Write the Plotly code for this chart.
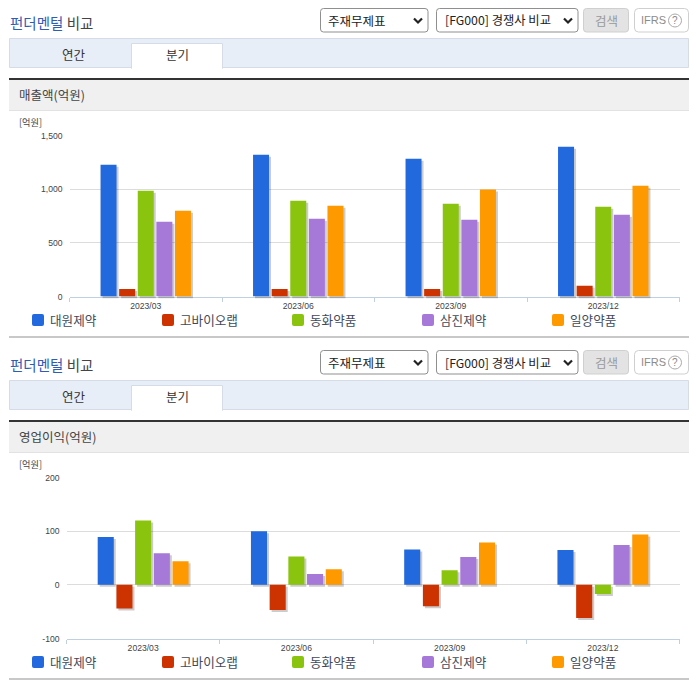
import plotly.graph_objects as go

W, H = 696, 684
periods = ["2023/03", "2023/06", "2023/09", "2023/12"]
companies = ["대원제약", "고바이오랩", "동화약품", "삼진제약", "일양약품"]
colors = ["#2369de", "#cc3300", "#8bc40e", "#a678d8", "#ff9900"]

revenue_daewon = [1228, 1321, 1284, 1396]
revenue_kobio = [71, 71, 71, 99]
revenue_donghwa = [985, 892, 864, 836]
revenue_samjin = [696, 724, 715, 761]
revenue_ilyang = [798, 845, 998, 1032]

profit_daewon = [89, 100, 66, 65]
profit_kobio = [-44, -47, -40, -62]
profit_donghwa = [120, 53, 27, -17]
profit_samjin = [59, 20, 52, 74]
profit_ilyang = [44, 29, 79, 94]

revenue = [revenue_daewon, revenue_kobio, revenue_donghwa, revenue_samjin, revenue_ilyang]
profit = [profit_daewon, profit_kobio, profit_donghwa, profit_samjin, profit_ilyang]

revenue_ticks = [0, 500, 1000, 1500]
revenue_ticktext = ["0", "500", "1,000", "1,500"]
profit_ticks = [-100, 0, 100, 200]
profit_ticktext = ["-100", "0", "100", "200"]

KR = "Noto Sans CJK KR"
LAT = "Liberation Sans"


def px(x):
    return x / W


def py(y):
    return 1 - y / H


fig = go.Figure()
layout = {}
shapes = []
annots = []


def rrect(x0, y0, x1, y1, r=0, fill="rgba(0,0,0,0)", line="rgba(0,0,0,0)", lw=1):
    if r:
        d = (f"M{px(x0+r)},{py(y0)} L{px(x1-r)},{py(y0)} Q{px(x1)},{py(y0)} {px(x1)},{py(y0+r)} "
             f"L{px(x1)},{py(y1-r)} Q{px(x1)},{py(y1)} {px(x1-r)},{py(y1)} L{px(x0+r)},{py(y1)} "
             f"Q{px(x0)},{py(y1)} {px(x0)},{py(y1-r)} L{px(x0)},{py(y0+r)} Q{px(x0)},{py(y0)} {px(x0+r)},{py(y0)} Z")
        shapes.append(dict(type="path", xref="paper", yref="paper", path=d, fillcolor=fill,
                           line=dict(color=line, width=lw)))
    else:
        shapes.append(dict(type="rect", xref="paper", yref="paper", x0=px(x0), x1=px(x1), y0=py(y0), y1=py(y1),
                           fillcolor=fill, line=dict(color=line, width=lw)))


def label(x, y, text, size=12, color="#333", anchor="left", family=KR):
    annots.append(dict(xref="paper", yref="paper", x=px(x), y=py(y), text=text, showarrow=False,
                       xanchor=anchor, yanchor="middle", borderpad=0, borderwidth=0,
                       font=dict(family=family, size=size, color=color)))


def chevron(x, y):
    d = f"M{px(x-4)},{py(y-2)} L{px(x)},{py(y+2)} L{px(x+4)},{py(y-2)}"
    shapes.append(dict(type="path", xref="paper", yref="paper", path=d,
                       line=dict(color="#222", width=2.2)))


def chrome(o, title):
    """Page furniture of one panel; o is the vertical offset in pixels."""
    label(9.5, 23 + o, '<span style="color:#2f5cb5">펀더멘털</span> <span style="color:#444">비교</span>', 14.5)
    rrect(320.5, 8.5 + o, 428, 32 + o, 3, "#fff", "#8f8f8f")
    label(327.5, 20.5 + o, "주재무제표", 12.5, "#222")
    chevron(418, 20.5 + o)
    rrect(436.5, 8.5 + o, 578, 32 + o, 3, "#fff", "#8f8f8f")
    label(444.5, 20.5 + o, "[FG000] 경쟁사 비교", 12.3, "#222")
    chevron(568, 20.5 + o)
    rrect(583.5, 8.5 + o, 628.5, 32 + o, 3, "#e3e3e3", "#cfcfcf")
    label(606, 20.5 + o, "검색", 12.5, "#999", "center")
    rrect(634.5, 8.5 + o, 688.5, 32 + o, 4, "#fff", "#cfcfcf")
    label(641, 20 + o, "IFRS", 11, "#8c8c8c", family=LAT)
    shapes.append(dict(type="circle", xref="paper", yref="paper", x0=px(668.5), x1=px(681.5),
                       y0=py(14 + o), y1=py(27 + o), line=dict(color="#aaa", width=1)))
    label(675, 20.5 + o, "?", 10, "#888", "center", LAT)
    rrect(9.5, 38.5 + o, 688.5, 67.5 + o, 0, "#e8eef8", "#d6dce6")
    rrect(131.5, 43.5 + o, 222.5, 68.5 + o, 0, "#fff", "#d6dce6")
    rrect(132, 66 + o, 222, 69 + o, 0, "#fff")
    label(74, 54.5 + o, "연간", 12.5, "#333", "center")
    label(177, 54.5 + o, "분기", 12.5, "#333", "center")
    rrect(9, 80 + o, 689, 110.5 + o, 0, "#f0f0f0")
    rrect(9, 110 + o, 689, 111 + o, 0, "#e2e2e2")
    rrect(9, 78 + o, 689, 80 + o, 0, "#333")
    label(19, 94.8 + o, title, 12.5, "#444")
    label(19, 122 + o, "[억원]", 9.2, "#444")
    for i, (name, col) in enumerate(zip(companies, colors)):
        x = 32 + 130 * i
        rrect(x, 314 + o, x + 12, 326 + o, 2, col)
        label(x + 18, 319.5 + o, name, 12.6, "#3f4a59")
    rrect(9, 336 + o, 689, 338 + o, 0, "#c8c8c8")


def panel(idx, series, yr, tickv, tickt, x0, x1, y0, y1):
    """Three stacked axis pairs: grid and labels, shadows, bars."""
    dom_x = [px(x0), px(x1)]
    dom_y = [py(y1), py(y0)]
    ids = [idx, idx + 1, idx + 2]
    names = [(f"xaxis{i if i > 1 else ''}", f"yaxis{i if i > 1 else ''}") for i in ids]
    refs = [(f"x{i if i > 1 else ''}", f"y{i if i > 1 else ''}") for i in ids]
    layout[names[0][0]] = dict(domain=dom_x, type="category", categoryorder="array", categoryarray=periods,
                               range=[-0.5, 3.5], anchor=refs[0][1], tickson="boundaries", ticks="outside",
                               ticklen=4, tickwidth=1, tickcolor="#c0d0e0", showgrid=False, automargin=False,
                               showline=True, linecolor="#c0d0e0", linewidth=1, ticklabelstandoff=1,
                               tickfont=dict(family=LAT, size=8.6, color="#444"))
    layout[names[0][1]] = dict(domain=dom_y, range=yr, anchor=refs[0][0], tickvals=tickv, ticktext=tickt,
                               showgrid=True, gridcolor="#dcdcdc", gridwidth=1, zeroline=False, showline=False,
                               ticks="", ticklabelstandoff=6, automargin=False,
                               tickfont=dict(family=LAT, size=8.6, color="#444"))
    layout[names[1][0]] = dict(domain=[px(x0 + 2), px(x1 + 2)], type="category", categoryorder="array",
                               categoryarray=periods, range=[-0.5, 3.5], anchor=refs[1][1], visible=False)
    layout[names[1][1]] = dict(domain=[py(y1 + 2), py(y0 + 2)], range=yr, anchor=refs[1][0], visible=False)
    layout[names[2][0]] = dict(domain=dom_x, type="category", categoryorder="array", categoryarray=periods,
                               range=[-0.5, 3.5], anchor=refs[2][1], visible=False)
    layout[names[2][1]] = dict(domain=dom_y, range=yr, anchor=refs[2][0], visible=False)
    # Invisible trace so the grid-and-label axes are drawn underneath everything
    fig.add_bar(x=periods, y=series[0], name=companies[0], showlegend=False, hoverinfo="skip",
                marker=dict(color="rgba(0,0,0,0)", line_width=0), xaxis=refs[0][0], yaxis=refs[0][1])
    for name, vals in zip(companies, series):
        fig.add_bar(x=periods, y=vals, name=name, showlegend=False, hoverinfo="skip",
                    marker=dict(color="rgba(0,0,0,0.2)", line_width=0),
                    xaxis=refs[1][0], yaxis=refs[1][1], cliponaxis=False)
    for name, vals, col in zip(companies, series, colors):
        fig.add_bar(x=periods, y=vals, name=name, showlegend=False,
                    marker=dict(color=col, line_width=0),
                    xaxis=refs[2][0], yaxis=refs[2][1], cliponaxis=False)


chrome(0, "매출액(억원)")
chrome(342, "영업이익(억원)")
panel(1, revenue, [0, 1500], revenue_ticks, revenue_ticktext, 69.5, 679.5, 135.5, 296.5)
panel(4, profit, [-100, 200], profit_ticks, profit_ticktext, 66.5, 679.5, 477.5, 638.5)

fig.update_layout(width=W, height=H, margin=dict(l=0, r=0, t=0, b=0), paper_bgcolor="#fff", plot_bgcolor="rgba(0,0,0,0)",
                  barmode="group", bargap=0.39, bargroupgap=0.14, showlegend=False,
                  shapes=shapes, annotations=annots, **layout)
fig.write_html("out.html", config={"displayModeBar": False},
               post_script="document.body.style.margin='0';")
